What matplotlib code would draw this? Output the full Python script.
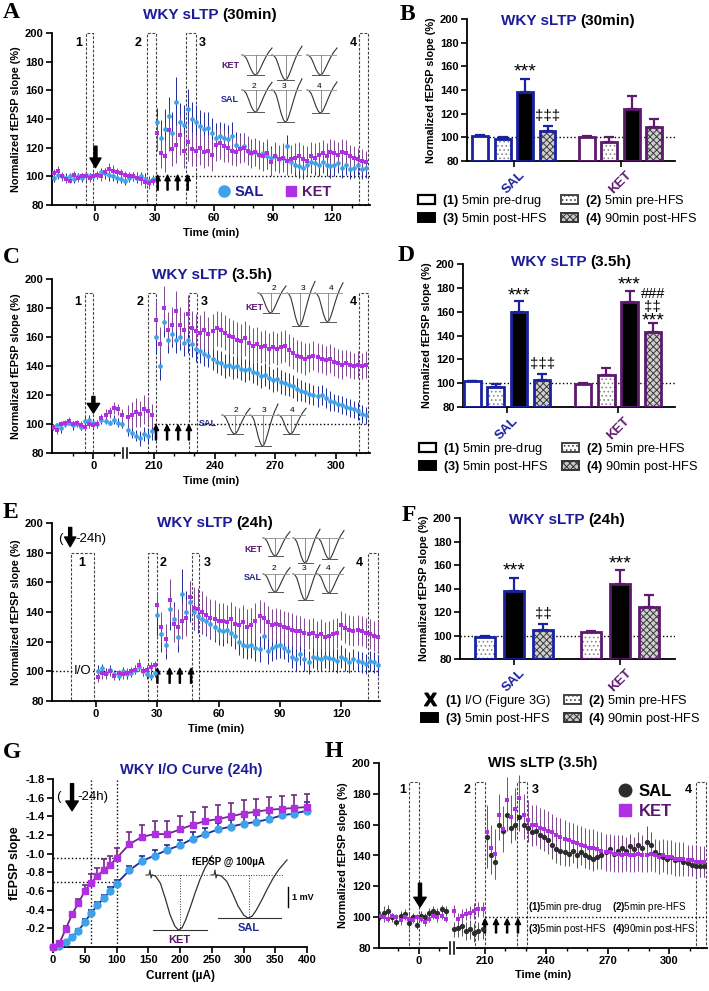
import numpy as np
import matplotlib
matplotlib.use('Agg')
import matplotlib.pyplot as plt
from matplotlib.patches import Patch, Rectangle
from matplotlib.lines import Line2D
from matplotlib.transforms import blended_transform_factory

plt.rcParams['font.family'] = ['Liberation Sans', 'DejaVu Sans']
plt.rcParams['mathtext.fontset'] = 'custom'
plt.rcParams['mathtext.rm'] = 'Liberation Sans'
plt.rcParams['mathtext.bf'] = 'Liberation Sans:bold'
plt.rcParams['hatch.linewidth'] = 0.7
plt.rcParams['axes.linewidth'] = 1.3

# colours
SAL_M = '#3fa2e8'; SAL_E = '#1f2a96'
KET_M = '#b02fe2'; KET_E = '#7c4a8c'
BLUE_T = '#1c1c98'; PURP_T = '#5a1570'
SAL_BAR = '#1a22a0'; KET_BAR = '#5d1a6e'
WIS_SAL = '#2c2c2c'; WIS_SAL_E = '#555555'

# ===== data =====
# A: WKY sLTP 30min (2-min bins)
A_sal_pre = [99,101,100,99,100,98,100,99,101,100,100,101,103,102,101,100,99,98,97,99,100,99,100,98,97,98]
A_sal_pre_e = [3,3,2,3,2,3,2,3,3,2,3,3,3,4,4,3,4,3,3,3,3,4,3,4,3,3]
A_ket_pre = [102,104,100,98,97,101,99,100,100,99,100,101,100,103,105,104,103,102,101,100,100,99,98,96,95,97]
A_ket_pre_e = [3,3,3,3,2,3,3,2,3,3,3,2,3,3,4,4,3,3,3,3,3,3,4,4,4,3]
A_sal_post = [138,127,133,142,130,152,138,136,147,140,138,135,133,134,130,127,128,127,126,128,
              122,120,121,118,116,117,115,116,114,113,114,112,113,121,110,108,107,106,108,110,
              109,108,110,108,107,108,109,106,108,105,106,108,105,106]
A_sal_post_e = [10,12,14,13,15,17,13,14,14,12,12,11,12,11,11,10,10,10,10,10,
                9,10,9,9,9,9,9,8,9,8,8,8,8,8,8,8,8,8,8,8,
                8,8,8,8,8,8,7,7,7,7,7,7,7,7]
A_ket_post = [130,116,114,132,119,122,129,118,124,119,118,120,117,118,115,122,123,121,120,118,
              117,119,120,118,116,117,115,114,116,110,114,112,113,111,112,113,114,112,111,114,
              113,115,116,114,117,116,115,117,116,114,113,112,111,110]
A_ket_post_e = [12,10,11,14,12,13,14,12,13,12,11,12,11,11,11,11,11,11,10,10,
                10,10,10,10,10,10,10,10,10,10,10,10,10,10,10,10,10,10,10,10,
                10,9,9,9,9,9,9,9,9,8,8,8,8,8]

# C: WKY sLTP 3.5h
C_sal_pre = [98,99,97,100,101,99,100,98,102,103,101,100,103,102,101,103,101,100]
C_sal_pre_e = [2,2,3,2,2,3,2,2,3,3,2,3,3,2,2,3,3,3]
C_ket_pre = [98,96,100,101,102,100,101,99,98,100,99,100,104,106,108,111,110,106]
C_ket_pre_e = [2,3,2,2,3,2,2,3,2,3,2,3,3,4,4,4,4,4]
C_sal_mid = [96,94,92,90,93,92,95]
C_sal_mid_e = [4,4,4,5,5,5,6]
C_ket_mid = [105,106,108,107,110,109,106]
C_ket_mid_e = [8,9,10,9,10,9,8]
C_sal_post = [160,140,170,158,162,158,160,156,158,155,152,150,148,147,145,143,142,140,141,139,
              140,138,137,138,136,135,133,134,132,130,131,129,128,127,126,124,123,122,121,120,
              119,120,118,116,115,114,113,112,111,110,109,107,106]
C_sal_post_e = [12,10,10,9,9,9,9,9,9,9,9,8,8,8,8,8,8,8,8,8,
                8,8,8,8,8,8,8,8,8,8,8,8,8,8,8,8,7,7,7,7,
                7,7,7,7,6,6,6,6,6,6,6,6,6]
C_ket_post = [172,155,180,165,168,178,168,165,176,166,164,163,165,162,164,166,165,163,161,160,
              158,157,159,156,154,155,153,154,152,153,152,153,154,151,149,147,146,145,146,147,
              146,145,144,145,143,142,141,142,141,140,141,140,141]
C_ket_post_e = [14,12,15,12,13,14,13,12,13,12,12,12,13,12,12,12,12,12,12,12,
                12,12,12,12,12,12,11,11,11,11,11,11,11,11,11,11,11,11,10,10,
                10,10,10,10,10,10,10,9,9,9,9,9,9]

# E: WKY sLTP 24h
E_sal_pre = [100,102,99,101,98,97,100,98,99,101,103,100,98,97,99]
E_sal_pre_e = [4,3,3,3,3,3,3,3,3,3,3,3,3,3,3]
E_ket_pre = [96,99,98,100,97,99,98,99,100,101,104,100,101,103,104]
E_ket_pre_e = [3,4,3,3,3,2,3,3,3,3,4,3,3,3,3]
E_sal_post = [138,125,118,142,135,123,152,140,147,140,137,135,134,132,130,128,127,128,126,124,
              120,118,117,118,116,115,124,114,116,117,118,116,114,110,108,112,108,106,110,109,
              108,110,109,108,107,110,108,106,108,107,106,105,107,106,104]
E_sal_post_e = [14,12,10,14,12,10,17,14,14,12,11,10,10,10,10,10,10,9,9,9,
                9,9,9,9,9,9,9,9,9,9,9,8,8,8,8,8,8,8,8,8,
                8,8,8,8,8,8,8,7,7,7,7,7,7,7,7]
E_ket_post = [145,130,122,148,132,130,134,136,150,143,142,140,138,136,135,134,134,133,135,132,
              131,133,130,131,134,137,136,133,131,132,131,130,129,128,127,127,126,125,126,124,
              125,123,124,125,126,131,129,128,127,128,127,126,125,124,123]
E_ket_post_e = [8,10,10,14,12,12,12,12,11,14,14,14,13,13,13,12,12,12,12,12,
                12,12,12,12,12,11,11,11,11,11,11,11,11,11,11,10,10,10,10,10,
                10,10,10,10,10,10,10,10,10,10,10,10,10,10,10]

# G: I/O curve
G_I = [0,10,20,30,40,50,60,70,80,90,100,120,140,160,180,200,220,240,260,280,300,320,340,360,380,400]
G_ket = [0,-0.04,-0.19,-0.35,-0.47,-0.60,-0.69,-0.76,-0.83,-0.88,-0.95,-1.10,-1.18,-1.21,-1.21,
         -1.26,-1.31,-1.35,-1.37,-1.40,-1.43,-1.45,-1.47,-1.48,-1.49,-1.50]
G_ket_e = [0,0.01,0.03,0.03,0.04,0.06,0.09,0.09,0.11,0.10,0.11,0.13,0.13,0.14,0.14,
           0.14,0.14,0.15,0.15,0.14,0.14,0.14,0.14,0.14,0.14,0.14]
G_sal = [0,-0.01,-0.05,-0.11,-0.17,-0.27,-0.36,-0.45,-0.52,-0.60,-0.68,-0.82,-0.92,-0.98,-1.04,
         -1.09,-1.16,-1.21,-1.26,-1.29,-1.32,-1.34,-1.37,-1.41,-1.43,-1.46]
G_sal_e = [0,0.01,0.01,0.02,0.02,0.03,0.04,0.03,0.04,0.04,0.04,0.05,0.06,0.06,0.05,
           0.06,0.07,0.07,0.07,0.07,0.07,0.07,0.08,0.08,0.08,0.09]

# H: WIS sLTP 3.5h
H_sal_pre = [101,103,104,100,97,101,102,96,100,95,101,100,103,104,103,105,104]
H_sal_pre_e = [3,4,4,3,3,3,3,4,3,3,3,3,3,3,3,3,3]
H_ket_pre = [101,100,99,101,100,98,100,99,98,100,99,97,99,101,100,101,99]
H_ket_pre_e = [2,3,2,2,2,3,2,3,2,2,2,3,2,2,3,2,2]
H_sal_mid = [92,93,94,91,92,90,91,92]
H_sal_mid_e = [5,6,6,6,6,6,6,6]
H_ket_mid = [104,99,101,102,103,104,105,105]
H_ket_mid_e = [4,4,4,4,4,5,5,5]
H_sal_post = [152,140,136,160,156,166,158,160,165,160,158,155,156,153,152,150,147,144,143,142,
              141,143,140,142,140,139,138,139,140,142,144,141,143,145,143,146,144,147,145,149,
              147,142,140,139,138,139,137,138,136,135,134,133,133,133]
H_sal_post_e = [20,12,11,10,10,10,10,10,9,9,9,9,9,9,9,9,9,9,9,9,
                8,8,8,8,8,8,8,8,8,8,8,8,8,8,8,8,8,8,8,10,
                8,8,8,7,7,7,7,7,7,7,7,7,7,7]
H_ket_post = [155,145,141,166,157,176,165,170,177,166,163,160,160,158,157,156,155,153,152,151,
              150,149,148,147,146,145,145,144,143,142,142,141,141,140,141,140,140,141,140,140,
              141,140,139,140,139,139,138,138,138,137,137,136,136,136]
H_ket_post_e = [18,15,16,14,15,15,14,14,15,14,13,13,13,13,13,13,12,12,12,12,
                12,12,12,12,12,12,12,12,12,12,12,12,12,11,11,11,11,11,11,11,
                11,11,11,11,11,11,11,11,11,10,10,10,10,10]

# bar summaries (1) pre-drug (2) pre-HFS (3) post-HFS (4) 90min post-HFS
B_sal = [101, 99, 138.5, 105.3]; B_sal_e = [0.8, 1, 10.7, 4.5]
B_ket = [100.5, 96.3, 124, 108.5]; B_ket_e = [0.8, 4.3, 10.7, 7]
D_sal = [101.5, 96.5, 160, 103]; D_sal_e = [0.7, 3, 9, 4.5]
D_ket = [99, 106.7, 168, 143]; D_ket_e = [1, 6, 9.3, 7.5]
F_sal = [99, 138, 104.7]; F_sal_e = [0.5, 11.3, 4.8]
F_ket = [103, 143.8, 124.5]; F_ket_e = [1, 12, 10]

# fEPSP trace amplitudes (mV-ish, for inset sketches)
wave_x = [0, .06, .14, .22, .30, .38, .44, .50, .56, .64, .72, .80, .88, 1.0]
wave_y = [0, -.02, -.15, -.42, -.72, -.93, -1.0, -.96, -.82, -.58, -.32, -.08, .12, .35]
A_tr_ket = [1.0, 1.25, 1.0]; A_tr_sal = [1.1, 1.6, 1.15]
C_tr_ket = [1.0, 1.65, 1.45]; C_tr_sal = [0.95, 1.55, 0.95]
E_tr_ket = [0.9, 1.25, 1.05]; E_tr_sal = [0.9, 1.3, 0.95]
G_tr = {'KET': 2.75, 'SAL': 2.15}

# ===== figure =====
W, H = 709, 991
fig = plt.figure(figsize=(W / 100, H / 100), dpi=100)
fig.patch.set_facecolor('white')
REND = fig.canvas.get_renderer()


def rect(l, r, t, b):
    return [l / W, 1 - b / H, (r - l) / W, (b - t) / H]


def grid(t0, vals, step=2):
    return t0 + step * np.arange(len(vals))


def title(xc, y, parts, size=11):
    ts = [fig.text(0, 1 - y / H, s, color=c, fontsize=size, fontweight='bold', va='center', ha='left')
          for s, c in parts]
    gap = 4
    ws = [t.get_window_extent(REND).width for t in ts]
    x = xc - (sum(ws) + gap * (len(ts) - 1)) / 2
    for t, w in zip(ts, ws):
        t.set_x(x / W)
        x += w + gap


def letter(x, y, s):
    fig.text(x / W, 1 - y / H, s, fontsize=17, fontweight='bold', family='Liberation Serif', va='top', ha='left')


def tc_panel(r, xlim, ticks, labels, minors):
    ax = fig.add_axes(r)
    ax.set_xlim(*xlim); ax.set_ylim(80, 200)
    ax.spines[['top', 'right']].set_visible(False)
    yt = list(range(80, 201, 20))
    ax.set_yticks(yt, [str(v) for v in yt], fontweight='bold', fontsize=8)
    ax.set_xticks(ticks, labels, fontweight='bold', fontsize=8)
    ax.set_xticks(minors, minor=True)
    ax.tick_params(width=1.2, length=4, pad=2)
    ax.tick_params(which='minor', width=1, length=2.5)
    ax.set_ylabel('Normalized fEPSP slope (%)', fontsize=7.8, fontweight='bold', labelpad=3)
    ax.set_xlabel('Time (min)', fontsize=8, fontweight='bold', labelpad=3)
    return ax


def series(ax, t, y, e, mc, ec, mk, ms):
    ax.errorbar(t, y, yerr=e, fmt=mk, ms=ms, mfc=mc, mec=mc, mew=0, ecolor=ec,
                elinewidth=0.7, capsize=1.6, capthick=0.7, zorder=3)


def dbox(ax, x0, x1, top):
    ax.add_patch(Rectangle((x0, 80), x1 - x0, top - 80, fill=False, ls=(0, (2.5, 1.5)), lw=0.8,
                           ec='#444444', zorder=1, clip_on=False))


def nums(ax, xs, y):
    for s, x in zip('1234', xs):
        ax.text(x, y, s, ha='center', va='center', fontsize=9, fontweight='bold')


def down_arrow(ax, x, y0, y1, hw=8):
    ax.annotate('', xy=(x, y1), xytext=(x, y0),
                arrowprops=dict(facecolor='k', edgecolor='k', width=2.2, headwidth=hw, headlength=7, shrink=0))


def up_arrows(ax, xs, y0, y1):
    for x in xs:
        ax.annotate('', xy=(x, y1), xytext=(x, y0),
                    arrowprops=dict(facecolor='k', edgecolor='k', width=0.8, headwidth=3.8, headlength=4, shrink=0))


def axis_break(ax, xb):
    tr = blended_transform_factory(ax.transData, ax.transAxes)
    ax.plot([xb - 0.9, xb + 0.9], [0, 0], color='white', lw=3, transform=tr, clip_on=False, zorder=5)
    for d in (-0.9, 0.9):
        ax.plot([xb + d] * 2, [-0.03, 0.03], color='k', lw=1.1, transform=tr, clip_on=False, zorder=6)


# ---------- A ----------
axA = tc_panel(rect(52, 370, 33, 205), (-22, 139), [0, 30, 60, 90, 120], ['0', '30', '60', '90', '120'],
               [-10, 10, 20, 40, 50, 70, 80, 100, 110, 130])
for x0, x1 in [(-5, -1), (26, 30.5), (46, 51), (133.5, 138)]:
    dbox(axA, x0, x1, 200)
nums(axA, [-8.6, 21.8, 54.3, 130.5], 193)
axA.plot([30, 139], [100, 100], ls=':', color='k', lw=1, zorder=1)
series(axA, grid(-21, A_sal_pre), A_sal_pre, A_sal_pre_e, SAL_M, SAL_E, 'o', 3.4)
series(axA, grid(31, A_sal_post), A_sal_post, A_sal_post_e, SAL_M, SAL_E, 'o', 3.4)
series(axA, grid(-21, A_ket_pre), A_ket_pre, A_ket_pre_e, KET_M, KET_E, 's', 3.2)
series(axA, grid(31, A_ket_post), A_ket_post, A_ket_post_e, KET_M, KET_E, 's', 3.2)
down_arrow(axA, 0, 121, 106)
up_arrows(axA, [31.5, 36.5, 41.6, 46.7], 90.4, 100.8)
axA.legend([Line2D([], [], marker='o', color=SAL_M, ls='', ms=8),
            Line2D([], [], marker='s', color=KET_M, ls='', ms=7.5)], ['SAL', 'KET'],
           ncol=2, loc='center right', bbox_to_anchor=(0.9, 0.076), frameon=False,
           prop=dict(weight='bold', size=10.5), labelcolor=[BLUE_T, PURP_T],
           handletextpad=0.2, columnspacing=1.4, borderpad=0, handlelength=1.0)
title(210, 15, [('WKY sLTP', BLUE_T), ('(30min)', 'k')])
letter(3, 2, 'A')

# ---------- C ----------
OFF_C = 180
axC = tc_panel(rect(52, 370, 279, 453), (-20.5, 137), [0, 30, 60, 90, 120], ['0', '210', '240', '270', '300'],
               [-10, 10, 40, 50, 70, 80, 100, 110, 130])
for x0, x1 in [(-4.4, 0), (27.1, 31), (47.3, 51.2), (131.5, 136)]:
    dbox(axC, x0, x1, 190)
nums(axC, [-7.9, 23.2, 54.7, 128.6], 184)
axC.plot([30, 137], [100, 100], ls=':', color='k', lw=1, zorder=1)
axis_break(axC, 15.8)
series(axC, grid(-20, C_sal_pre), C_sal_pre, C_sal_pre_e, SAL_M, SAL_E, 'o', 3.4)
series(axC, grid(197, C_sal_mid) - OFF_C, C_sal_mid, C_sal_mid_e, SAL_M, SAL_E, 'o', 3.4)
series(axC, grid(211, C_sal_post) - OFF_C, C_sal_post, C_sal_post_e, SAL_M, SAL_E, 'o', 3.4)
series(axC, grid(-20, C_ket_pre), C_ket_pre, C_ket_pre_e, KET_M, KET_E, 's', 3.2)
series(axC, grid(197, C_ket_mid) - OFF_C, C_ket_mid, C_ket_mid_e, KET_M, KET_E, 's', 3.2)
series(axC, grid(211, C_ket_post) - OFF_C, C_ket_post, C_ket_post_e, KET_M, KET_E, 's', 3.2)
down_arrow(axC, 0, 119, 107.5, hw=9)
up_arrows(axC, np.array([211, 216.5, 222, 227.3]) - OFF_C, 89, 99.3)
title(212, 275, [('WKY sLTP', BLUE_T), ('(3.5h)', 'k')])
letter(3, 247, 'C')

# ---------- E ----------
axE = tc_panel(rect(52, 380, 523, 701), (-21.6, 139), [0, 30, 60, 90, 120], ['0', '30', '60', '90', '120'], [])
for x0, x1 in [(-12.3, -1), (25.5, 30), (47, 50.5), (133, 138)]:
    dbox(axE, x0, x1, 180)
nums(axE, [-6.9, 33, 54.4, 129], 173)
axE.plot([-21.6, 139], [100, 100], ls=':', color='k', lw=1, zorder=1)
axE.text(-6.7, 100, 'I/O', ha='center', va='center', fontsize=9.5, zorder=4,
         bbox=dict(fc='white', ec='none', pad=0.3))
series(axE, grid(1, E_sal_pre), E_sal_pre, E_sal_pre_e, SAL_M, SAL_E, 'o', 3.4)
series(axE, grid(30, E_sal_post), E_sal_post, E_sal_post_e, SAL_M, SAL_E, 'o', 3.4)
series(axE, grid(1, E_ket_pre), E_ket_pre, E_ket_pre_e, KET_M, KET_E, 's', 3.2)
series(axE, grid(30, E_ket_post), E_ket_post, E_ket_post_e, KET_M, KET_E, 's', 3.2)
up_arrows(axE, [30, 36, 41, 46.5], 92, 102)
axE.text(-17.6, 189, '(', ha='center', va='center', fontsize=9.5)
down_arrow(axE, -12.7, 197, 184)
axE.text(-10.3, 189, '-24h)', ha='left', va='center', fontsize=9.5)
title(215, 523, [('WKY sLTP', BLUE_T), ('(24h)', 'k')])
letter(3, 502, 'E')

# ---------- H ----------
OFF_H = 178
axH = tc_panel(rect(379, 707, 763, 948), (-19.5, 140.5), [0, 32, 62, 92, 122], ['0', '210', '240', '270', '300'],
               [-10, 10, 42, 52, 72, 82, 102, 112, 132])
for x0, x1 in [(-5, 0), (27.3, 32), (48, 52.7), (135, 140)]:
    dbox(axH, x0, x1, 188)
nums(axH, [-7.8, 23.4, 56.6, 131.2], 182.5)
axH.plot([32, 140.5], [100, 100], ls=':', color='k', lw=1, zorder=1)
axis_break(axH, 16.1)
series(axH, grid(-19, H_sal_pre), H_sal_pre, H_sal_pre_e, WIS_SAL, WIS_SAL_E, 'o', 3.8)
series(axH, grid(195, H_sal_mid) - OFF_H, H_sal_mid, H_sal_mid_e, WIS_SAL, WIS_SAL_E, 'o', 3.8)
series(axH, grid(211, H_sal_post) - OFF_H, H_sal_post, H_sal_post_e, WIS_SAL, WIS_SAL_E, 'o', 3.8)
series(axH, grid(-19, H_ket_pre), H_ket_pre, H_ket_pre_e, KET_M, KET_E, 's', 3.2)
series(axH, grid(195, H_ket_mid) - OFF_H, H_ket_mid, H_ket_mid_e, KET_M, KET_E, 's', 3.2)
series(axH, grid(211, H_ket_post) - OFF_H, H_ket_post, H_ket_post_e, KET_M, KET_E, 's', 3.2)
down_arrow(axH, 0.5, 122, 106.6, hw=9)
up_arrows(axH, np.array([210.2, 215.6, 221, 226.3]) - OFF_H, 89.8, 98.8)
axH.legend([Line2D([], [], marker='o', color=WIS_SAL, ls='', ms=9),
            Line2D([], [], marker='s', color=KET_M, ls='', ms=8)], ['SAL', 'KET'],
           loc='upper left', bbox_to_anchor=(0.7, 0.93), frameon=False,
           prop=dict(weight='bold', size=12), labelcolor=['k', PURP_T],
           handletextpad=0.3, borderpad=0, handlelength=1.0, labelspacing=0.3)
fig.text(528 / W, 1 - 907 / H, r'$\mathbf{(1)}$5min pre-drug', fontsize=7, va='center')
fig.text(612 / W, 1 - 907 / H, r'$\mathbf{(2)}$5min pre-HFS', fontsize=7, va='center')
fig.text(528 / W, 1 - 929 / H, r'$\mathbf{(3)}$5min post-HFS', fontsize=7, va='center')
fig.text(612 / W, 1 - 929 / H, r'$\mathbf{(4)}$90min post-HFS', fontsize=7, va='center')
title(543, 763, [('WIS sLTP (3.5h)', 'k')], size=10.5)
letter(325, 741, 'H')

# ---------- G ----------
axG = fig.add_axes(rect(53, 307, 779, 947))
axG.set_xlim(0, 400); axG.set_ylim(0, -1.8)
axG.spines[['top', 'right']].set_visible(False)
gy = [-1.8, -1.6, -1.4, -1.2, -1.0, -0.8, -0.6, -0.4, -0.2]
axG.set_yticks(gy, ['%.1f' % v for v in gy], fontweight='bold', fontsize=8)
gx = list(range(0, 401, 50))
axG.set_xticks(gx, [str(v) for v in gx], fontweight='bold', fontsize=8)
axG.tick_params(width=1.2, length=4, pad=2)
axG.set_xlabel('Current (µA)', fontsize=8.5, fontweight='bold', labelpad=3)
axG.set_ylabel('fEPSP slope', fontsize=9, fontweight='bold', labelpad=3)
for yv in (-0.95, -0.7):
    axG.plot([0, 100], [yv, yv], ls=':', color='k', lw=1, zorder=1)
for xv in (60, 100):
    axG.plot([xv, xv], [0, -1.8], ls=':', color='k', lw=1, zorder=1)
axG.errorbar(G_I, G_sal, yerr=[G_sal_e, np.zeros(len(G_sal_e))], fmt='-o', color=SAL_E, mfc=SAL_M, mec=SAL_M,
             ms=5, lw=1.3, elinewidth=1.2, capsize=2.5, capthick=1.2, zorder=3, clip_on=False)
axG.errorbar(G_I, G_ket, yerr=[G_ket_e, np.zeros(len(G_ket_e))], fmt='-s', color='#6e2a80', mfc=KET_M, mec=KET_M,
             ms=4.5, lw=1.3, elinewidth=1.2, capsize=2.5, capthick=1.2, zorder=4, clip_on=False)
axG.text(8, -1.61, '(', ha='center', va='center', fontsize=9.5)
axG.annotate('', xy=(30, -1.46), xytext=(30, -1.75),
             arrowprops=dict(facecolor='k', edgecolor='k', width=2.2, headwidth=9, headlength=7, shrink=0))
axG.text(38, -1.61, '-24h)', ha='left', va='center', fontsize=9.5)
title(191, 770, [('WKY I/O Curve (24h)', BLUE_T)], size=10.5)
letter(3, 742, 'G')


# ---------- bar panels ----------
def draw_bar(ax, x, v, w, kind, ec):
    h = v - 80
    if kind == 'open':
        ax.bar(x, h, w, bottom=80, color='white', lw=0, zorder=2)
    elif kind == 'dot':
        ax.bar(x, h, w, bottom=80, color='white', hatch='....', edgecolor='#8a8a8a', lw=0, zorder=2)
    elif kind == 'solid':
        ax.bar(x, h, w, bottom=80, color='black', lw=0, zorder=2)
    else:
        ax.bar(x, h, w, bottom=80, color='#cfcfcf', hatch='xxxxx', edgecolor='#3a3a3a', lw=0, zorder=2)
    ax.bar(x, h, w, bottom=80, fill=False, edgecolor=ec, lw=2, zorder=3)


def bar_panel(r, xs_s, xs_k, sal, sal_e, ket, ket_e, kinds, w, xlim):
    ax = fig.add_axes(r)
    ax.set_xlim(*xlim); ax.set_ylim(80, 200)
    ax.spines[['top', 'right']].set_visible(False)
    yt = list(range(80, 201, 20))
    ax.set_yticks(yt, [str(v) for v in yt], fontweight='bold', fontsize=8)
    ax.tick_params(width=1.2, length=4, pad=2)
    ax.axhline(100, ls=':', color='k', lw=1, zorder=1)
    for xs, vals, errs, ec in ((xs_s, sal, sal_e, SAL_BAR), (xs_k, ket, ket_e, KET_BAR)):
        for x, v, e, k in zip(xs, vals, errs, kinds):
            draw_bar(ax, x, v, w, k, ec)
            ax.errorbar(x, v, yerr=[[0], [e]], fmt='none', ecolor=ec, elinewidth=1.6, capsize=3.5,
                        capthick=1.6, zorder=4)
    ax.set_xticks([np.mean(xs_s), np.mean(xs_k)])
    ax.set_xticklabels(['SAL', 'KET'], rotation=45, fontweight='bold', fontsize=9.5, ha='center')
    ax.get_xticklabels()[0].set_color(SAL_BAR)
    ax.get_xticklabels()[1].set_color(KET_BAR)
    ax.set_ylabel('Normalized fEPSP slope (%)', fontsize=7.8, fontweight='bold', labelpad=3)
    return ax


def mark(ax, x, y, s, size=14):
    ax.text(x, y, s, ha='center', va='center', fontsize=size, zorder=5)


def bar_legend(x, y, io=False):
    if io:
        h1 = Line2D([], [], marker=r'$\mathbf{X}$', color='k', ls='', ms=9)
        l1 = r'$\mathbf{(1)}$ I/O (Figure 3G)'
    else:
        h1 = Patch(fc='white', ec='k', lw=1.6)
        l1 = r'$\mathbf{(1)}$ 5min pre-drug'
    h2 = Patch(fc='white', ec='#444444', hatch='....', lw=1.4)
    h3 = Patch(fc='black', ec='k', lw=1.4)
    h4 = Patch(fc='#c8c8c8', ec='#333333', hatch='xxxxx', lw=1.4)
    fig.legend([h1, h3, h2, h4],
               [l1, r'$\mathbf{(3)}$ 5min post-HFS', r'$\mathbf{(2)}$ 5min pre-HFS', r'$\mathbf{(4)}$ 90min post-HFS'],
               ncol=2, loc='upper left', bbox_to_anchor=(x / W, 1 - y / H), frameon=False, fontsize=9.2,
               handlelength=1.35, handleheight=0.75, handletextpad=0.55, columnspacing=1.0,
               labelspacing=0.15, borderpad=0, borderaxespad=0)


xs4_s = [0, 1, 2, 3]; xs4_k = [4.75, 5.75, 6.75, 7.75]
kinds4 = ['open', 'dot', 'solid', 'check']

axB = bar_panel(rect(467, 675, 19, 161), xs4_s, xs4_k, B_sal, B_sal_e, B_ket, B_ket_e, kinds4, 0.71, (-0.58, 8.67))
mark(axB, 2, 155, '***')
mark(axB, 3, 118, '‡‡‡', 11)
bar_legend(418, 193)
title(568, 21, [('WKY sLTP', BLUE_T), ('(30min)', 'k')])
letter(400, 4, 'B')

axD = bar_panel(rect(463, 675, 264, 407), xs4_s, xs4_k, D_sal, D_sal_e, D_ket, D_ket_e, kinds4, 0.71, (-0.4, 8.7))
mark(axD, 2, 173.5, '***')
mark(axD, 3, 116.5, '‡‡‡', 11)
mark(axD, 6.75, 182, '***')
mark(axD, 7.75, 175, '###', 10.5)
mark(axD, 7.75, 164, '‡‡', 11)
mark(axD, 7.75, 152, '***')
bar_legend(419, 441)
title(571, 262, [('WKY sLTP', BLUE_T), ('(3.5h)', 'k')])
letter(398, 245, 'D')

xs3_s = [0, 1, 2]; xs3_k = [3.66, 4.66, 5.66]
axF = bar_panel(rect(460, 675, 518, 659), xs3_s, xs3_k, F_sal, F_sal_e, F_ket, F_ket_e, ['dot', 'solid', 'check'],
                0.69, (-0.86, 6.55))
mark(axF, 1, 154.5, '***')
mark(axF, 2, 118, '‡‡', 11)
mark(axF, 4.66, 161, '***')
bar_legend(421, 693, io=True)
title(567, 520, [('WKY sLTP', BLUE_T), ('(24h)', 'k')])
letter(402, 505, 'F')

# ---------- inset fEPSP sketches (overlay in pixel space) ----------
ov = fig.add_axes([0, 0, 1, 1], zorder=10)
ov.set_xlim(0, W); ov.set_ylim(H, 0); ov.axis('off')
ov.patch.set_alpha(0)
PX = 20  # px per trace unit
wx = np.array(wave_x); wy = np.array(wave_y)


def trace(x0, w, ytop, amp, col='#333333'):
    d = amp * PX
    ov.plot(x0 + wx * w, ytop - wy * d, color=col, lw=0.8)
    ov.plot([x0, x0 + w * 0.95], [ytop, ytop], color='#9a9a9a', lw=0.7)
    xm = x0 + 0.46 * w
    ov.plot([xm - 0.28 * w, xm + 0.28 * w], [ytop + d] * 2, color='#555555', lw=0.7)
    ov.plot([xm, xm], [ytop, ytop + d], color='#777777', lw=0.6)


def trace_row(xs, w, ytop, amps):
    for x0, a in zip(xs, amps):
        trace(x0, w, ytop, a)


def trace_nums(xs, dx, y):
    for s, x0 in zip('234', xs):
        ov.text(x0 + dx, y, s, fontsize=6, ha='center', va='center')


def trace_label(x, y, s, col):
    ov.text(x, y, s, color=col, fontsize=6.5, fontweight='bold', ha='center', va='center')


# A
trace_row([242, 272, 307], 30, 55, A_tr_ket)
trace_row([242, 272, 307], 30, 90, A_tr_sal)
trace_nums([242, 272, 307], 12, 86)
trace_label(230, 65, 'KET', PURP_T)
trace_label(230, 100, 'SAL', SAL_E)
# C
trace_row([258, 287, 315], 28, 293, C_tr_ket)
trace_nums([258, 287, 315], 16, 288)
trace_label(254, 308, 'KET', PURP_T)
trace_row([222, 250, 278], 28, 415, C_tr_sal)
trace_nums([222, 250, 278], 14, 410)
trace_label(208, 423, 'SAL', SAL_E)
# E
trace_row([263, 293, 317], 27, 538, E_tr_ket)
trace_row([263, 293, 317], 27, 574, E_tr_sal)
trace_nums([263, 293, 317], 11, 568)
trace_label(253, 550, 'KET', PURP_T)
trace_label(253, 578, 'SAL', SAL_E)

# G traces at 100 µA
for x0, key, col in ((152, 'KET', PURP_T), (217, 'SAL', SAL_E)):
    d = G_tr[key] * PX
    w = 60 if key == 'KET' else 70
    ov.plot([x0 - 6, x0 - 3, x0 - 2, x0 - 1, x0], [875, 875, 870, 878, 875], color='#333333', lw=0.8)
    ov.plot(x0 + wx * w, 875 - wy * d, color='#333333', lw=0.9)
    xm = x0 + 0.46 * w
    ov.plot([x0, x0 + w * 0.95], [875, 875], color='#333333', lw=0.7, ls=':')
    ov.plot([xm, xm], [875, 875 + d], color='#333333', lw=0.7, ls=':')
    ov.plot([xm - 0.45 * w, xm + 0.45 * w], [875 + d] * 2, color='#333333', lw=0.8)
    ov.text(xm, 875 + d + 10, key, color=col, fontsize=8, fontweight='bold', ha='center', va='center')
ov.text(228, 862, 'fEPSP @ 100µA', fontsize=7, fontweight='bold', ha='center', va='center')
ov.plot([288, 288], [887, 887 + PX], color='k', lw=1)
ov.text(292, 897, '1 mV', fontsize=6.5, fontweight='bold', ha='left', va='center')

fig.savefig('out.png', dpi=100, facecolor='white')
